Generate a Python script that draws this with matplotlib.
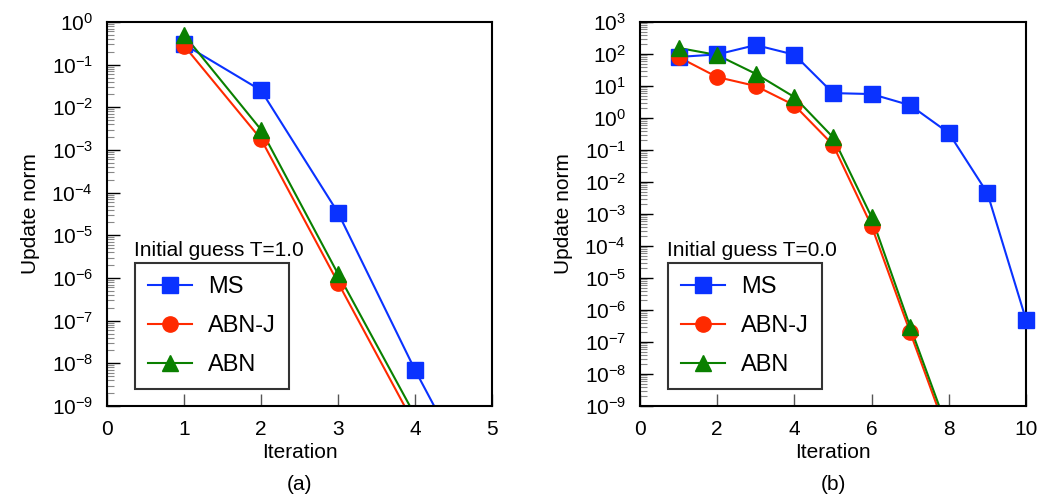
import numpy as np
import matplotlib.pyplot as plt
from matplotlib.ticker import LogLocator, NullFormatter, FixedLocator
from matplotlib.lines import Line2D

plt.rcParams['font.family'] = ['Liberation Sans', 'DejaVu Sans']

# === Data (a): initial guess T=1.0 ===
iter_a_ms = [1, 2, 3, 4, 5]
ms_a = [0.3, 0.025, 3.4e-5, 7e-9, 2.8e-12]
iter_a_abnj = [1, 2, 3, 4]
abnj_a = [0.28, 1.8e-3, 7.8e-7, 3.5e-10]
iter_a_abn = [1, 2, 3, 4]
abn_a = [0.5, 3.0e-3, 1.25e-6, 6e-10]

# === Data (b): initial guess T=0.0 ===
iter_b_ms = [1, 2, 3, 4, 5, 6, 7, 8, 9, 10]
ms_b = [81, 97, 190, 95, 6.0, 5.6, 2.5, 0.34, 4.5e-3, 5e-7]
iter_b_abnj = [1, 2, 3, 4, 5, 6, 7, 8]
abnj_b = [80, 19, 10, 2.5, 0.145, 4.2e-4, 2e-7, 1e-10]
iter_b_abn = [1, 2, 3, 4, 5, 6, 7, 8]
abn_b = [155, 93, 24, 4.5, 0.25, 8e-4, 3e-7, 1.5e-10]

BLUE = "#0a32ff"
RED = "#ff2a00"
GREEN = "#0a8000"

styles = [("MS", BLUE, "s", 11),
          ("ABN-J", RED, "o", 11),
          ("ABN", GREEN, "^", 11)]

fig = plt.figure(figsize=(10.43, 5.03), dpi=100)
ax_a = fig.add_axes([107 / 1043, 1 - 406 / 503, 385 / 1043, 384 / 503])
ax_b = fig.add_axes([640 / 1043, 1 - 406 / 503, 386 / 1043, 384 / 503])


def draw(ax, series, xmax, xticks, ymin_exp, ymax_exp, title, tag):
    for (x, y), (name, c, m, ms) in zip(series, styles):
        x = np.array(x)
        y = np.array(y)
        ax.plot(x, y, color=c, lw=1.5, zorder=2)
        # markers drawn unclipped so the one sitting on the frame stays whole
        keep = y >= 10.0 ** ymin_exp
        ax.plot(x[keep], y[keep], ls="none", marker=m, ms=ms, color=c,
                mec=c, clip_on=False, zorder=3)
    ax.set_yscale("log")
    ax.set_xlim(0, xmax)
    ax.set_ylim(10.0 ** ymin_exp, 10.0 ** ymax_exp)
    ax.set_xticks(xticks)
    ax.yaxis.set_major_locator(FixedLocator([10.0 ** e for e in range(ymin_exp, ymax_exp + 1)]))
    ax.yaxis.set_minor_locator(LogLocator(base=10, subs=np.arange(2, 10), numticks=100))
    ax.yaxis.set_minor_formatter(NullFormatter())
    ax.tick_params(axis="both", which="major", direction="in", length=9, width=1.0,
                   labelsize=15, pad=10, top=False, right=False)
    ax.tick_params(axis="y", which="minor", direction="in", length=5, width=0.8,
                   color="#888888", right=False)
    ax.tick_params(axis="x", which="major", color="#555555")
    for s in ax.spines.values():
        s.set_linewidth(1.5)
    ax.set_xlabel("Iteration", fontsize=15, labelpad=3)
    ax.set_ylabel("Update norm", fontsize=15, labelpad=8)
    ax.text(0.07, 0.405, title, transform=ax.transAxes, fontsize=15, ha="left", va="center")
    handles = [Line2D([], [], color=c, marker=m, ms=ms, lw=1.5, label=n)
               for n, c, m, ms in styles]
    leg = ax.legend(handles=handles, loc="upper left", bbox_to_anchor=(0.073, 0.372),
                    fontsize=17, frameon=True, fancybox=False, edgecolor="black",
                    handlelength=1.85, handletextpad=0.7, borderpad=0.55,
                    labelspacing=0.72, borderaxespad=0)
    leg.get_frame().set_linewidth(1.5)
    ax.text(0.5, -0.205, tag, transform=ax.transAxes, fontsize=15, ha="center", va="center")


draw(ax_a, [(iter_a_ms, ms_a), (iter_a_abnj, abnj_a), (iter_a_abn, abn_a)],
     5, [0, 1, 2, 3, 4, 5], -9, 0, "Initial guess T=1.0", "(a)")
draw(ax_b, [(iter_b_ms, ms_b), (iter_b_abnj, abnj_b), (iter_b_abn, abn_b)],
     10, [0, 2, 4, 6, 8, 10], -9, 3, "Initial guess T=0.0", "(b)")

fig.savefig("out.png", dpi=100)
